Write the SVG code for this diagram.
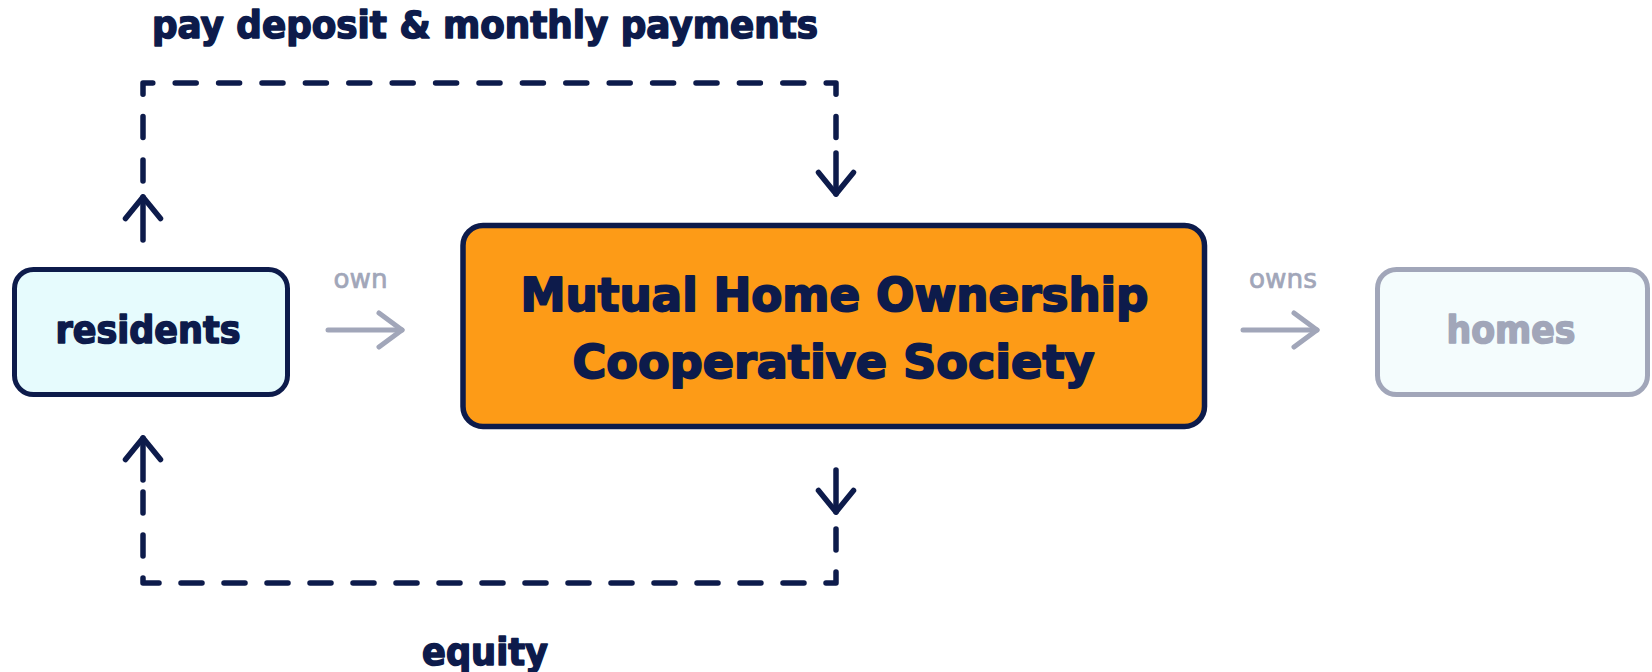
<svg xmlns="http://www.w3.org/2000/svg" width="1652" height="672" viewBox="0 0 1652 672">
  <style>
    .lbl { font-family: "DejaVu Sans", "Liberation Sans", sans-serif; font-weight: bold; fill: #0d1b4b; stroke: #0d1b4b; stroke-width: 1.6; stroke-linejoin: round; text-anchor: middle; }
    .rel { font-family: "DejaVu Sans", "Liberation Sans", sans-serif; font-weight: normal; fill: #a1a6b9; stroke: #a1a6b9; stroke-width: 0.7; stroke-linejoin: round; text-anchor: middle; font-size: 26px; }
    .dash { fill: none; stroke: #0d1b4b; stroke-width: 5.5; stroke-linecap: round; stroke-linejoin: round; }
    .dark { fill: none; stroke: #0d1b4b; stroke-width: 5.5; stroke-linecap: round; }
    .gray { fill: none; stroke: #a1a6b9; stroke-width: 5; stroke-linecap: round; }
  </style>
  <defs>
    <marker id="arrDark" viewBox="-26 -22 30 44" refX="0" refY="0" markerUnits="userSpaceOnUse" markerWidth="30" markerHeight="44" orient="auto" overflow="visible">
      <path d="M-21.5,-17.5 L0,0 L-21.5,17.5" fill="none" stroke="#0d1b4b" stroke-width="5.5" stroke-linecap="round" stroke-linejoin="round"/>
    </marker>
    <marker id="arrGray" viewBox="-28 -22 32 44" refX="0" refY="0" markerUnits="userSpaceOnUse" markerWidth="32" markerHeight="44" orient="auto" overflow="visible">
      <path d="M-23,-17 L0,0 L-23,17" fill="none" stroke="#a1a6b9" stroke-width="5" stroke-linecap="round" stroke-linejoin="round"/>
    </marker>
  </defs>
  <rect width="1652" height="672" fill="#ffffff"/>

  <g id="connectors">
    <path class="dash" d="M143,181 V83 H836 V138" stroke-dasharray="21 22.4"/>
    <path class="dark" d="M143,240 V197" marker-end="url(#arrDark)"/>
    <path class="dark" d="M836,153 V194" marker-end="url(#arrDark)"/>
    <path class="dash" d="M836,529 V583 H143 V490" stroke-dasharray="21 22"/>
    <path class="dark" d="M143,480 V438" marker-end="url(#arrDark)"/>
    <path class="dark" d="M836,470 V512" marker-end="url(#arrDark)"/>
    <path class="gray" d="M328,330 H402" marker-end="url(#arrGray)"/>
    <path class="gray" d="M1243,330 H1317" marker-end="url(#arrGray)"/>
    <text class="lbl" x="485" y="38" font-size="37" textLength="666" lengthAdjust="spacingAndGlyphs">pay deposit &amp; monthly payments</text>
    <text class="lbl" x="485" y="665" font-size="37" textLength="126" lengthAdjust="spacingAndGlyphs">equity</text>
    <text class="rel" x="360.5" y="288" textLength="54" lengthAdjust="spacingAndGlyphs">own</text>
    <text class="rel" x="1283" y="288" textLength="68" lengthAdjust="spacingAndGlyphs">owns</text>
  </g>

  <g id="residents">
    <rect x="14.5" y="269.5" width="273" height="125" rx="19" fill="#e6fbfd" stroke="#0d1b4b" stroke-width="5"/>
    <text class="lbl" x="148" y="343" font-size="37" textLength="185" lengthAdjust="spacingAndGlyphs">residents</text>
  </g>

  <g id="society">
    <rect x="463" y="225.5" width="741.5" height="201" rx="20" fill="#fd9b17" stroke="#0d1b4b" stroke-width="5.5"/>
    <text class="lbl" x="834.5" y="311" font-size="47" textLength="628" lengthAdjust="spacingAndGlyphs" style="stroke-width:2">Mutual Home Ownership</text>
    <text class="lbl" x="833.5" y="378" font-size="47" textLength="522" lengthAdjust="spacingAndGlyphs" style="stroke-width:2">Cooperative Society</text>
  </g>

  <g id="homes">
    <rect x="1377.5" y="269.5" width="270" height="125" rx="19" fill="#f4fcfd" stroke="#a1a6b9" stroke-width="5"/>
    <text class="lbl" x="1511" y="343" font-size="37" textLength="129" lengthAdjust="spacingAndGlyphs" style="fill:#a1a6b9;stroke:#a1a6b9">homes</text>
  </g>
</svg>
